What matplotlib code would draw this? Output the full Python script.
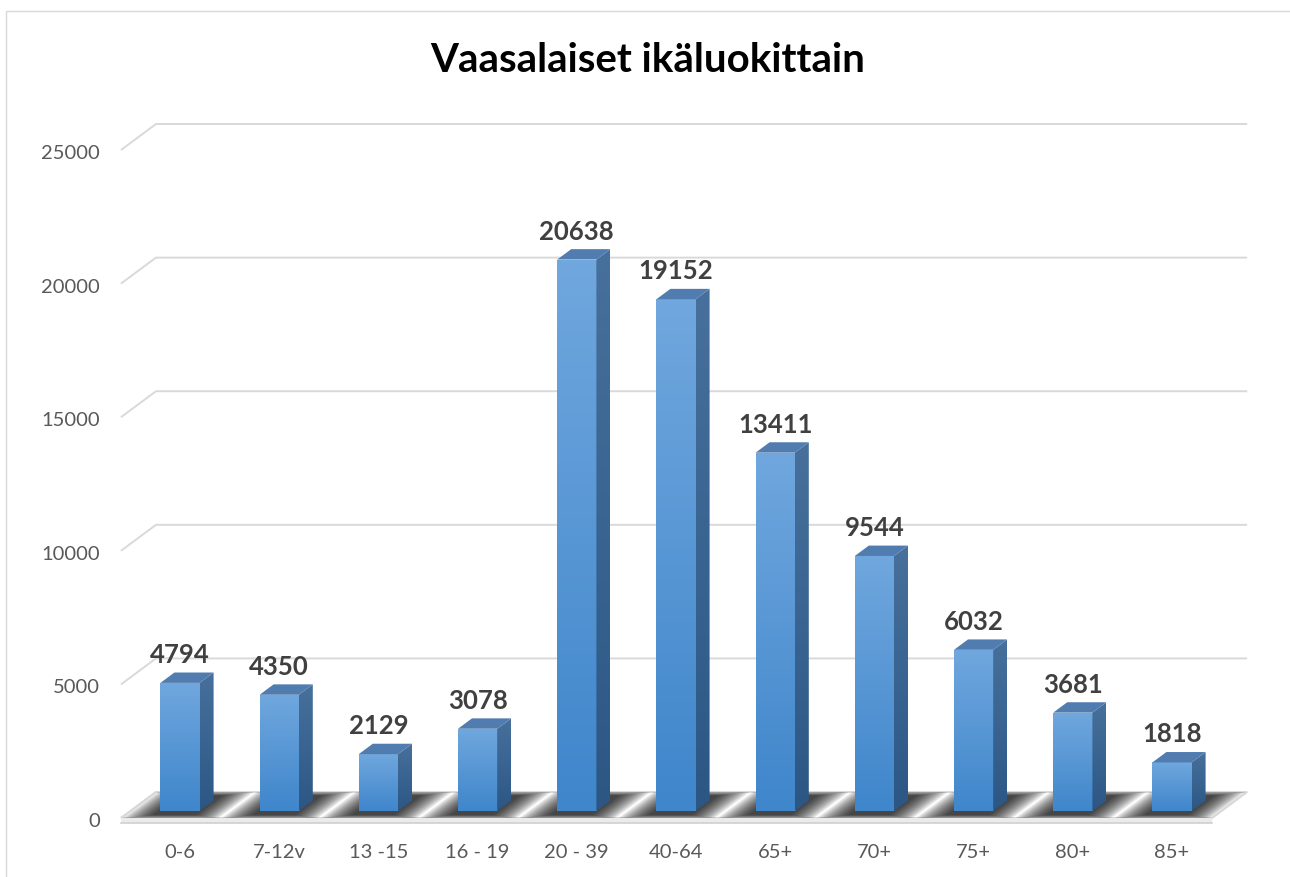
import matplotlib
matplotlib.use("Agg")
import matplotlib.pyplot as plt
import numpy as np
from matplotlib.patches import Polygon, Rectangle
from matplotlib.colors import LinearSegmentedColormap

# ---- data ----
categories = ["0-6", "7-12v", "13 -15", "16 - 19", "20 - 39", "40-64",
              "65+", "70+", "75+", "80+", "85+"]
values = [4794, 4350, 2129, 3078, 20638, 19152, 13411, 9544, 6032, 3681, 1818]
y_ticks = [0, 5000, 10000, 15000, 20000, 25000]
title = "Vaasalaiset ikäluokittain"

FONT = "Lato"
W, H = 1290, 877
fig = plt.figure(figsize=(W / 100, H / 100), dpi=100)
ax = fig.add_axes([0, 0, 1, 1])

# pixel scale of the chart (category spacing, px per value unit, origin of bar plane)
PXC, PXV, X0, Y0 = 99.2, 0.02672, 180.0, 811.0
XLIM = (-X0 / PXC, (W - X0) / PXC)
YLIM = ((Y0 - H) / PXV, Y0 / PXV)

# depth (3-D) projection
DDX, DDY = 35 / PXC, 26 / PXV
DB, BD = 0.27, 0.40   # bar front plane depth, bar depth
BW = 0.395            # bar width in category units
n = len(categories)
XL, XR = -0.5, n - 0.5


def P(x, v, d):
    return (x + (d - DB) * DDX, v + (d - DB) * DDY)


def px_to_v(py):
    return py / PXV


GRID = "#D9D9D9"

# gridlines (back wall + left side wall)
for t in y_ticks:
    pts = [P(XL, t, 0), P(XL, t, 1), P(XR, t, 1)]
    ax.plot([p[0] for p in pts], [p[1] for p in pts], color=GRID, lw=1.4,
            zorder=1, solid_capstyle="butt")

# floor
floor = Polygon([P(XL, 0, 0), P(XR, 0, 0), P(XR, 0, 1), P(XL, 0, 1)], closed=True,
                facecolor="white", edgecolor=GRID, lw=1.4, zorder=1)
ax.add_patch(floor)
# floor front thickness
th = px_to_v(5)
ax.add_patch(Polygon([P(XL, 0, 0), P(XR, 0, 0), P(XR, -th, 0), P(XL, -th, 0)],
                     closed=True, facecolor="#EBEBEB", edgecolor="none", zorder=1.5))
ax.plot([P(XL, -th, 0)[0], P(XR, -th, 0)[0]], [P(XL, -th, 0)[1]] * 2,
        color="#D0D0D0", lw=1.2, zorder=1.6)

# soft shadows on the floor
for i, v in enumerate(values):
    steps = 16
    for k in range(steps):
        f = 1 - k / steps
        m = 0.29 * f
        dl = 0.12 - 0.14 * f
        dh = 0.86 + 0.16 * f
        xl = i - BW / 2 - m
        xr = i + BW / 2 + m
        poly = Polygon([P(xl, 0, dl), P(xr, 0, dl), P(xr, 0, dh), P(xl, 0, dh)],
                       closed=True, facecolor="black", edgecolor="none",
                       alpha=0.075, zorder=2)
        poly.set_clip_path(floor)
        ax.add_patch(poly)


def grad_fill(patch, extent, c_bot, c_top, z):
    cmap = LinearSegmentedColormap.from_list("g", [c_bot, c_top])
    arr = np.linspace(0, 1, 128).reshape(-1, 1)
    im = ax.imshow(arr, cmap=cmap, extent=extent, origin="lower", aspect="auto",
                   interpolation="bilinear", zorder=z)
    ax.add_patch(patch)
    im.set_clip_path(patch)


for i, v in enumerate(values):
    xl, xr = i - BW / 2, i + BW / 2
    z = 5 + i * 0.01
    # front face
    front = Rectangle((xl, 0), BW, v, facecolor="none", edgecolor="none", zorder=z)
    grad_fill(front, (xl, xr, 0, v), "#3F86CB", "#70A7DE", z)
    # side face
    side_pts = [P(xr, 0, DB), P(xr, 0, DB + BD), P(xr, v, DB + BD), P(xr, v, DB)]
    side = Polygon(side_pts, closed=True, facecolor="none", edgecolor="none", zorder=z)
    xs = [p[0] for p in side_pts]
    ys = [p[1] for p in side_pts]
    grad_fill(side, (min(xs), max(xs), min(ys), max(ys)), "#2C5785", "#47709C", z)
    # top face
    top = Polygon([P(xl, v, DB), P(xr, v, DB), P(xr, v, DB + BD), P(xl, v, DB + BD)],
                  closed=True, facecolor="#517CAF", edgecolor="none", zorder=z + 0.001)
    ax.add_patch(top)
    # data label
    ax.text(i, v + px_to_v(20), f"{v}", ha="center", va="baseline",
            fontsize=18.5, fontweight="bold", color="#404040", family=FONT, zorder=10)
    # category label
    ax.text(i, -px_to_v(858 - Y0), categories[i], ha="center", va="baseline",
            fontsize=14.5, color="#595959", family=FONT, zorder=10)

# y tick labels on the front axis
for t in y_ticks:
    x, y = P(XL, t, 0)
    ax.text(x - 21 / PXC, y - px_to_v(9), f"{t}", ha="right", va="baseline",
            fontsize=14.5, color="#595959", family=FONT, zorder=10)

ax.set_xlim(*XLIM)
ax.set_ylim(*YLIM)
ax.axis("off")

# title
fig.text(647.5 / W, 1 - 72 / H, title, ha="center", va="baseline", fontsize=29,
         fontweight="bold", color="black", family=FONT)

# chart border
fig.patches.append(Rectangle((6 / W, -0.1), 2, 1.1 - 11 / H, transform=fig.transFigure,
                             fill=False, edgecolor=GRID, lw=1.0))

fig.savefig("out.png", dpi=100)
